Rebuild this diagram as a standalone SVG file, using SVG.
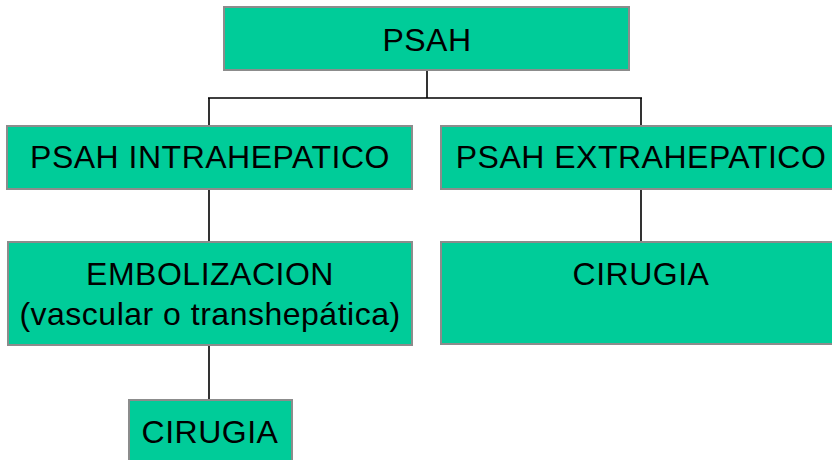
<svg xmlns="http://www.w3.org/2000/svg" width="832" height="460" viewBox="0 0 832 460">
<style>
.box{fill:#00CC99;stroke:#8C8C8C;stroke-width:2}
.t{font-family:"Liberation Sans",Arial,sans-serif;font-size:32px;fill:#000;text-anchor:middle;letter-spacing:0.5px}
.c{stroke:#000;stroke-width:1.6;fill:none}
</style>
<rect width="832" height="460" fill="#fff"/>
<g id="connectors">
<path class="c" d="M427,70 V98 M208,98 H642 M209,98 V126 M641,98 V126 M209,189 V242 M641,189 V242 M209,345 V400"/>
</g>
<g id="psah">
<rect class="box" x="224" y="7" width="405" height="63"/>
<text class="t" x="427" y="51">PSAH</text>
</g>
<g id="intra">
<rect class="box" x="7" y="126" width="405" height="63"/>
<text class="t" x="210" y="168">PSAH INTRAHEPATICO</text>
</g>
<g id="extra">
<rect class="box" x="441" y="126" width="400" height="63"/>
<text class="t" x="641" y="168">PSAH EXTRAHEPATICO</text>
</g>
<g id="emboliz">
<rect class="box" x="8" y="242" width="404" height="103"/>
<text class="t" x="210" y="285">EMBOLIZACION</text>
<text class="t" x="210" y="325">(vascular o transhepática)</text>
</g>
<g id="cirugia-right">
<rect class="box" x="441" y="242" width="400" height="102"/>
<text class="t" x="641" y="285">CIRUGIA</text>
</g>
<g id="cirugia-bottom">
<rect class="box" x="129" y="400" width="163" height="70"/>
<text class="t" x="210" y="443">CIRUGIA</text>
</g>
</svg>
